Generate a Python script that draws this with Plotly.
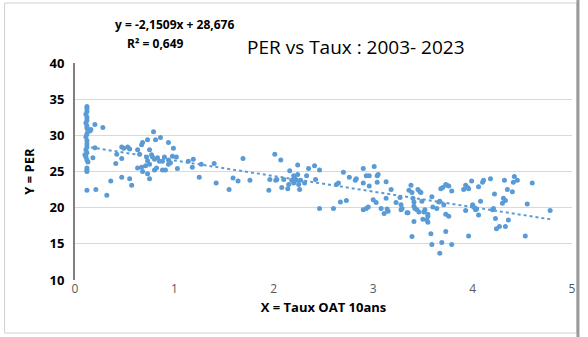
import plotly.graph_objects as go

# Taux OAT 10 ans (x) and PER (y)
taux = [
    0.12, 0.12, 0.12, 0.11, 0.12, 0.12, 0.11, 0.12, 0.12, 0.13, 0.12, 0.11, 0.12, 0.12, 0.12,
    0.11, 0.12, 0.10, 0.11, 0.12, 0.13, 0.12, 0.12, 0.12, 0.12, 0.15, 0.16, 0.18,
    0.21, 0.32, 0.20, 0.28, 0.20, 0.36, 0.47, 0.55, 0.57, 0.41, 0.42, 0.47, 0.47, 0.49, 0.53,
    0.55, 0.63, 0.65, 0.67, 0.68, 0.73, 0.79, 0.81, 0.86, 0.94, 0.99, 0.75, 0.77, 0.78, 0.80,
    0.83, 0.72, 0.85, 0.90, 0.94, 0.88, 0.94, 1.02, 1.03, 0.63, 0.67, 0.68, 0.73, 0.75, 0.71,
    0.75, 0.80, 0.82, 0.88, 0.91, 0.73, 0.98, 0.96,
    1.14, 1.19, 1.18, 1.27, 1.25, 1.40, 1.42, 1.55, 1.59, 1.64, 1.69, 1.76, 1.95, 1.96, 2.01,
    2.02, 2.07, 2.03, 2.08, 2.10, 2.16, 2.14, 2.15, 2.18, 2.20, 2.21, 2.23, 2.24, 2.24, 2.25,
    2.26, 2.20, 2.27, 2.31, 2.33, 2.35, 2.41, 2.42, 2.46, 2.46, 2.60, 2.65, 2.63, 2.67, 2.73,
    2.70, 2.76, 2.82, 2.83, 2.90, 2.90, 2.93, 2.96, 2.96, 2.90, 2.93, 2.95, 3.00, 3.01, 3.03,
    3.04, 3.04,
    3.05, 3.13, 3.18, 3.13, 3.08, 3.11, 3.14, 3.15, 3.23, 3.27, 3.28, 3.28, 3.29, 3.34, 3.35,
    3.36, 3.38, 3.39, 3.40, 3.41, 3.41, 3.42, 3.44, 3.45, 3.47, 3.48, 3.49, 3.46, 3.41, 3.39,
    3.50, 3.51, 3.52, 3.54, 3.55, 3.55, 3.58, 3.55, 3.59, 3.60, 3.64, 3.66, 3.67, 3.68, 3.70,
    3.73, 3.74, 3.76, 3.79, 3.71, 3.73, 3.76, 3.73, 3.69, 3.59, 3.67, 3.79, 3.91, 3.93, 3.93,
    3.95, 3.96, 3.99, 4.06, 4.10, 4.11, 4.18, 4.32, 4.42, 4.45, 4.41, 4.60, 4.22, 4.35, 4.40,
    4.31, 4.33, 4.30, 4.21, 4.20, 4.08, 4.00, 4.00, 4.02, 4.03, 4.04, 4.06, 4.55, 4.78, 4.23,
    4.36, 4.27, 4.24, 4.33, 3.96, 4.53,
]
per = [
    34.0, 33.7, 33.3, 32.9, 32.5, 32.1, 31.7, 31.3, 31.0, 30.6, 30.2, 29.8, 29.3, 28.8, 28.4,
    28.0, 27.6, 27.3, 27.0, 26.6, 26.3, 25.5, 25.2, 25.0, 22.4, 30.6, 30.8, 26.9,
    22.5, 21.7, 31.5, 31.1, 28.3, 23.7, 24.2, 24.0, 23.1, 26.1, 27.4, 26.8, 28.4, 28.2, 28.4,
    28.1, 28.0, 27.4, 28.7, 29.0, 29.4, 30.5, 29.4, 29.7, 29.0, 28.2, 28.0, 27.3, 27.0, 26.7,
    26.9, 27.0, 26.4, 27.0, 26.6, 26.4, 26.0, 27.0, 25.4, 25.5, 25.6, 25.0, 24.7, 24.0, 25.8,
    26.0, 25.2, 25.5, 25.2, 25.2, 26.5, 27.1, 26.2,
    26.4, 26.7, 25.6, 26.0, 24.2, 26.1, 23.4, 22.5, 24.1, 23.7, 26.8, 23.8, 22.4, 23.9, 27.4,
    23.8, 26.6, 23.9, 22.8, 23.9, 25.1, 22.6, 23.2, 23.8, 23.4, 24.1, 23.8, 24.6, 25.9, 23.2,
    22.5, 24.4, 23.8, 23.4, 24.4, 25.4, 25.8, 23.9, 25.2, 19.9, 19.9, 23.4, 23.2, 20.8, 21.0,
    24.9, 24.2, 23.8, 24.0, 25.4, 23.4, 24.4, 24.4, 23.0, 19.7, 19.9, 20.1, 21.1, 25.7, 20.7,
    24.4, 23.5,
    24.6, 23.6, 22.5, 21.3, 19.9, 19.2, 19.8, 19.5, 20.7, 21.4, 20.4, 19.7, 19.9, 19.3, 19.3,
    22.4, 23.1, 22.1, 21.3, 20.8, 20.2, 19.9, 19.7, 22.5, 22.2, 22.1, 20.9, 19.4, 18.1, 16.0,
    18.4, 19.4, 19.7, 18.3, 18.0, 18.8, 16.4, 19.1, 21.5, 20.1, 19.9, 20.8, 20.9, 22.6, 22.8,
    23.2, 23.1, 23.0, 22.3, 20.4, 19.1, 18.8, 16.7, 15.2, 14.9, 13.7, 14.9, 22.5, 23.1, 19.6,
    22.8, 22.6, 23.7, 22.9, 23.5, 23.8, 24.0, 23.8, 24.3, 23.8, 23.5, 23.4, 21.9, 22.5, 22.2,
    21.3, 21.0, 20.6, 19.9, 19.7, 20.9, 20.4, 20.2, 20.0, 19.7, 19.8, 19.0, 20.5, 19.6, 18.5,
    18.3, 17.4, 17.1, 17.4, 16.1, 16.1,
]

# Linear trend shown on the chart
slope = -2.1509
intercept = 28.676
r2 = 0.649

x_ticks = [0, 1, 2, 3, 4, 5]
y_ticks = [10, 15, 20, 25, 30, 35, 40]

FONT = "Open Sans, Noto Sans, Liberation Sans, sans-serif"

W, H = 588, 337
pl, pr, pt, pb = 75, 12, 63, 57
pw, ph = W - pl - pr, H - pt - pb


def px(xp):
    return (xp - pl) / pw


def py(yp):
    return (H - pb - yp) / ph


fig = go.Figure()

x0, x1 = min(taux), max(taux)
fig.add_trace(go.Scatter(
    x=[x0, x1], y=[slope * x0 + intercept, slope * x1 + intercept],
    mode="lines", line=dict(color="#5b9bd5", width=2, dash="dot"),
    hoverinfo="skip", showlegend=False,
))
fig.add_trace(go.Scatter(
    x=taux, y=per, mode="markers",
    marker=dict(color="#5b9bd5", size=5, line=dict(width=0)),
    showlegend=False,
))

fig.update_layout(
    width=W, height=H,
    margin=dict(l=pl, r=pr, t=pt, b=pb),
    paper_bgcolor="white", plot_bgcolor="white",
    font=dict(family=FONT, color="#000000"),
    xaxis=dict(
        range=[0, 5], tickvals=x_ticks, showgrid=False, zeroline=False,
        showline=False, ticks="", tickfont=dict(size=12, color="#595959"),
        title=dict(text="<b>X = Taux OAT 10ans</b>", font=dict(size=13, color="#000000"), standoff=6),
    ),
    yaxis=dict(
        range=[10, 40], tickvals=y_ticks, showgrid=True, gridcolor="#d9d9d9", gridwidth=1,
        zeroline=False, showline=True, linecolor="#808080", linewidth=2, ticks="",
        tickfont=dict(size=13, color="#000000", weight="bold"),
        ticklabelstandoff=6,
        title=dict(text="<b>Y = PER</b>", font=dict(size=13, color="#000000"), standoff=12),
    ),
    annotations=[
        dict(text="PER vs Taux : 2003- 2023", x=px(358), y=py(32), xref="paper", yref="paper",
             showarrow=False, font=dict(size=19, color="#000000", family=FONT)),
        dict(text="<b>y = -2,1509x + 28,676</b>", x=px(113), y=py(14), xref="paper", yref="paper",
             showarrow=False, font=dict(size=12, color="#000000")),
        dict(text="<b>R² = 0,649</b>", x=px(125), y=py(33), xref="paper", yref="paper",
             showarrow=False, font=dict(size=12, color="#000000")),
    ],
    shapes=[
        dict(type="rect", xref="paper", yref="paper",
             x0=px(4), x1=px(581), y0=py(333), y1=py(3),
             line=dict(color="#d0d0d0", width=1)),
        dict(type="line", xref="paper", yref="paper",
             x0=px(582), x1=px(582), y0=py(337), y1=py(0),
             line=dict(color="#9a9a9a", width=3)),
    ],
)

fig.write_html("out.html")
